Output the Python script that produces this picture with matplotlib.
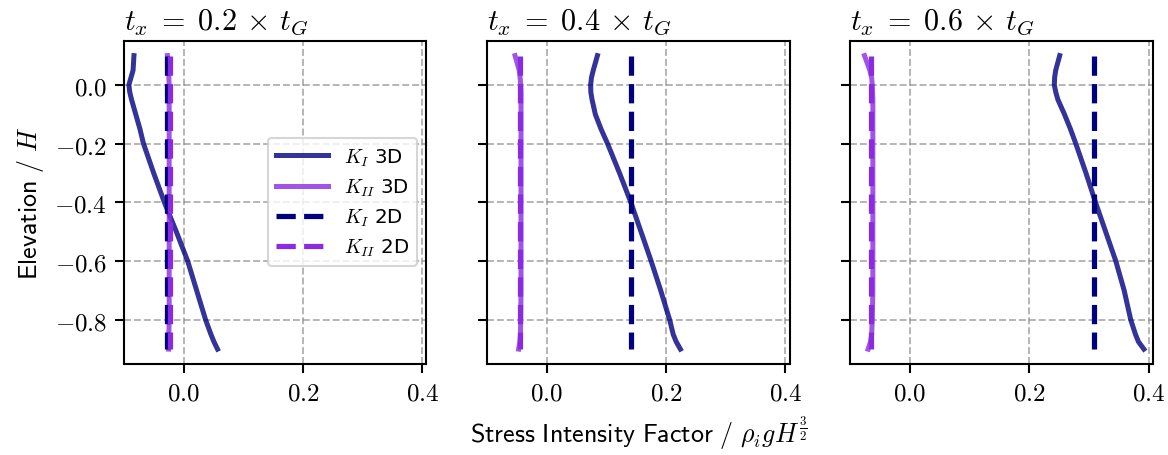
import matplotlib
matplotlib.use("Agg")
import matplotlib.pyplot as plt
from matplotlib.ticker import FuncFormatter, FixedLocator

plt.rcParams['mathtext.fontset'] = 'cm'
plt.rcParams['font.family'] = ['DejaVu Sans']

# ---- data ----
titles = [r"$t_x\;=\;0.2\,\times\,t_G$", r"$t_x\;=\;0.4\,\times\,t_G$", r"$t_x\;=\;0.6\,\times\,t_G$"]
elev_3d = [0.1, 0.05, 0.025, 0.0, -0.025, -0.05, -0.1, -0.15, -0.2, -0.3, -0.4, -0.5,
           -0.6, -0.7, -0.8, -0.85, -0.875, -0.9]
elev_2d = [0.1, -0.9]

KI_3d_a = [-0.083, -0.0845, -0.088, -0.0915, -0.090, -0.087, -0.080, -0.073, -0.067, -0.050,
           -0.032, -0.012, 0.007, 0.022, 0.037, 0.046, 0.051, 0.057]
KI_3d_b = [0.085, 0.078, 0.075, 0.0736, 0.074, 0.076, 0.0815, 0.091, 0.102, 0.122,
           0.141, 0.158, 0.175, 0.191, 0.206, 0.212, 0.217, 0.224]
KI_3d_c = [0.251, 0.2443, 0.2425, 0.242, 0.2445, 0.248, 0.259, 0.269, 0.278, 0.295,
           0.311, 0.328, 0.345, 0.359, 0.370, 0.378, 0.383, 0.392]

KII_3d_a = [-0.027, -0.025, -0.0245, -0.024, -0.024, -0.024, -0.024, -0.024, -0.024, -0.024,
            -0.024, -0.024, -0.024, -0.024, -0.024, -0.0245, -0.0245, -0.025]
KII_3d_b = [-0.053, -0.046, -0.0445, -0.0435, -0.043, -0.043, -0.043, -0.043, -0.043, -0.043,
            -0.043, -0.043, -0.043, -0.043, -0.0435, -0.044, -0.045, -0.047]
KII_3d_c = [-0.076, -0.067, -0.064, -0.063, -0.0625, -0.062, -0.062, -0.062, -0.062, -0.062,
            -0.062, -0.062, -0.062, -0.062, -0.063, -0.064, -0.066, -0.070]

KI_2d = [-0.027, 0.1405, 0.3086]
KII_2d = [-0.023, -0.045, -0.0657]

KI_3d = [KI_3d_a, KI_3d_b, KI_3d_c]
KII_3d = [KII_3d_a, KII_3d_b, KII_3d_c]

xticks = [0.0, 0.2, 0.4]
yticks = [0.0, -0.2, -0.4, -0.6, -0.8]

fig, axes = plt.subplots(1, 3, figsize=(11.68 / 1.5, 4.56 / 1.5), dpi=150, sharey=True)
fig.subplots_adjust(left=0.106, right=0.987, top=0.908, bottom=0.2, wspace=0.2)

fmt = FuncFormatter(lambda v, p: f"${v:.1f}$")

for i, ax in enumerate(axes):
    ax.plot(KI_3d[i], elev_3d, color='navy', alpha=0.8, lw=2.4, label=r"$K_I$ 3D")
    ax.plot(KII_3d[i], elev_3d, color='blueviolet', alpha=0.8, lw=2.4, label=r"$K_{II}$ 3D")
    ax.plot([KI_2d[i]] * 2, elev_2d, color='navy', ls='--', lw=2.5, label=r"$K_I$ 2D")
    ax.plot([KII_2d[i]] * 2, elev_2d, color='blueviolet', ls='--', lw=2.5, label=r"$K_{II}$ 2D")
    ax.set_xlim(-0.1, 0.407)
    ax.set_ylim(-0.95, 0.15)
    ax.xaxis.set_major_locator(FixedLocator(xticks))
    ax.yaxis.set_major_locator(FixedLocator(yticks))
    ax.xaxis.set_major_formatter(fmt)
    ax.yaxis.set_major_formatter(fmt)
    ax.tick_params(labelsize=12, width=1.0, length=4.5)
    ax.grid(True, ls='--', color='0.5', alpha=0.6, lw=0.9)
    for s in ax.spines.values():
        s.set_linewidth(1.0)
    ax.set_title(titles[i], loc='left', fontsize=14.5, pad=6)

axes[0].legend(loc='center right', fontsize=9.5, handlelength=2.6, labelspacing=0.45)
axes[0].set_ylabel(r"$\mathsf{Elevation\ /\ }H$", fontsize=12.5)
axes[1].set_xlabel(r"$\mathsf{Stress\ Intensity\ Factor\ /\ }\rho_i g H^{\frac{3}{2}}$", fontsize=12.5)

fig.savefig("out.png", dpi=150)
